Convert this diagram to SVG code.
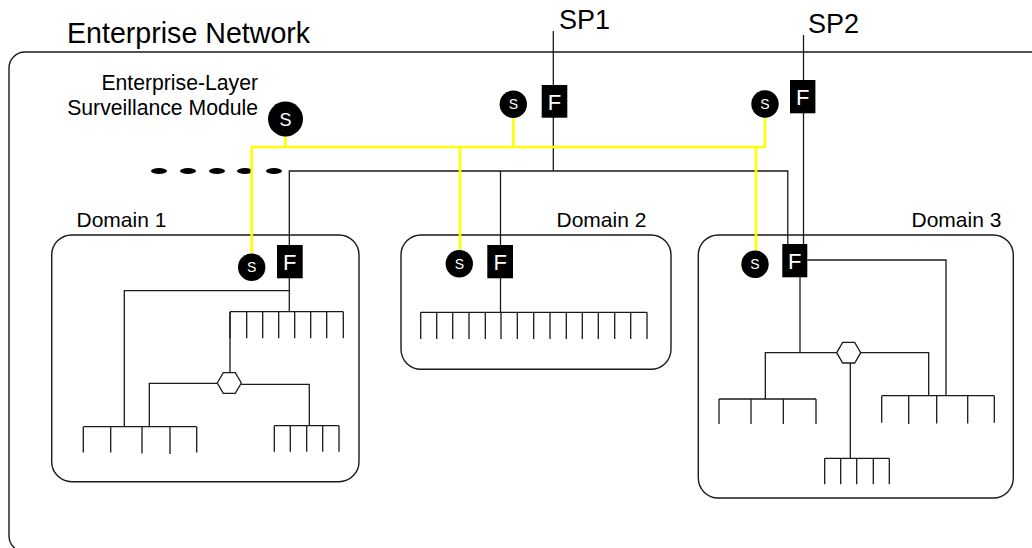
<svg xmlns="http://www.w3.org/2000/svg" width="1032" height="548" viewBox="0 0 1032 548">
  <style>
    .frame { fill: none; stroke: #1a1a1a; stroke-width: 1.4; }
    .wire { fill: none; stroke: #1a1a1a; stroke-width: 1.3; }
    .mon { fill: none; stroke: #ffff00; stroke-width: 2.6; }
    .label { font-family: "Liberation Sans", Arial, sans-serif; fill: #000; }
    .node { fill: #000; }
    .glyph { font-family: "Liberation Sans", Arial, sans-serif; fill: #fff; text-anchor: middle; }
    .hub { fill: #fff; stroke: #1a1a1a; stroke-width: 1.3; }
    .bus { fill: none; stroke: #1a1a1a; stroke-width: 1.3; }
  </style>

  <!-- enterprise boundary -->
  <g id="enterprise">
    <rect class="frame" x="9" y="52" width="1100" height="500" rx="16" ry="16"/>
    <text class="label" x="67" y="43" font-size="28.6">Enterprise Network</text>
    <text class="label" x="258" y="90" font-size="21.2" text-anchor="end">Enterprise-Layer</text>
    <text class="label" x="258" y="115" font-size="21.2" text-anchor="end">Surveillance Module</text>
    <g id="continuation">
      <ellipse class="node" cx="159" cy="171" rx="8" ry="3"/>
      <ellipse class="node" cx="188" cy="171" rx="8" ry="3"/>
      <ellipse class="node" cx="217" cy="171" rx="8" ry="3"/>
      <ellipse class="node" cx="245" cy="171" rx="8" ry="3"/>
      <ellipse class="node" cx="274" cy="171" rx="8" ry="3"/>
    </g>
  </g>

  <!-- service provider labels -->
  <g id="sp1"><text class="label" x="559" y="29" font-size="27">SP1</text></g>
  <g id="sp2"><text class="label" x="808" y="33" font-size="27">SP2</text></g>

  <!-- domain containers -->
  <g id="domain1">
    <rect class="frame" x="51.7" y="235" width="307.3" height="246.7" rx="20" ry="20"/>
    <text class="label" x="76.5" y="226.5" font-size="21">Domain 1</text>
  </g>
  <g id="domain2">
    <rect class="frame" x="401" y="235" width="270" height="134.3" rx="20" ry="20"/>
    <text class="label" x="556.5" y="226.5" font-size="21">Domain 2</text>
  </g>
  <g id="domain3">
    <rect class="frame" x="698.3" y="235" width="315" height="263" rx="20" ry="20"/>
    <text class="label" x="911.5" y="226.5" font-size="21">Domain 3</text>
  </g>

  <!-- connectors -->
  <g id="connectors">
    <!-- uplinks to the service providers -->
    <path class="wire" d="M553.3 31 V171"/>
    <path class="wire" d="M803.5 35 V244"/>
    <!-- enterprise backbone -->
    <path class="wire" d="M289.3 245 V171 H787.8 V244"/>
    <path class="wire" d="M500.5 171 V245"/>
    <!-- domain 1 -->
    <path class="wire" d="M289.3 278 V311.7"/>
    <path class="wire" d="M289.3 290.7 H124.3 V426.7"/>
    <path class="wire" d="M230 311.7 V372.7"/>
    <path class="wire" d="M217.3 383.3 H149.3 V426.7"/>
    <path class="wire" d="M241.3 384.3 H309.3 V425.7"/>
    <!-- domain 2 -->
    <path class="wire" d="M500.5 278 V312.3"/>
    <!-- domain 3 -->
    <path class="wire" d="M807.3 260 H946 V395.7"/>
    <path class="wire" d="M800 277.3 V352.7"/>
    <path class="wire" d="M765.3 399 V352.7 H836.7"/>
    <path class="wire" d="M860.7 352.7 H928.7 V395.7"/>
    <path class="wire" d="M850.3 363 V458.3"/>
    <!-- surveillance links -->
    <path class="mon" d="M285.5 136 V147"/>
    <path class="mon" d="M251.7 253.5 V147 H765 V118"/>
    <path class="mon" d="M460 250 V147"/>
    <path class="mon" d="M513.3 118 V147"/>
    <path class="mon" d="M756 251 V147"/>
  </g>

  <!-- surveillance modules -->
  <g id="s-enterprise">
    <circle class="node" cx="285.5" cy="119" r="17.5"/>
    <text class="glyph" x="285.5" y="125.5" font-size="18">S</text>
  </g>
  <g id="s-sp1">
    <circle class="node" cx="513.3" cy="104.3" r="13.7"/>
    <text class="glyph" x="513.3" y="109.3" font-size="14">S</text>
  </g>
  <g id="s-sp2">
    <circle class="node" cx="765" cy="104" r="13.7"/>
    <text class="glyph" x="765" y="109" font-size="14">S</text>
  </g>
  <g id="s-domain1">
    <circle class="node" cx="251.7" cy="267.3" r="13.7"/>
    <text class="glyph" x="251.7" y="272.3" font-size="14">S</text>
  </g>
  <g id="s-domain2">
    <circle class="node" cx="459.3" cy="263.7" r="13.7"/>
    <text class="glyph" x="459.3" y="268.7" font-size="14">S</text>
  </g>
  <g id="s-domain3">
    <circle class="node" cx="755" cy="264.3" r="13.7"/>
    <text class="glyph" x="755" y="269.3" font-size="14">S</text>
  </g>

  <!-- firewalls -->
  <g id="f-sp1">
    <rect class="node" x="541.7" y="85" width="25.6" height="32.7"/>
    <text class="glyph" x="554.5" y="109.5" font-size="22">F</text>
  </g>
  <g id="f-sp2">
    <rect class="node" x="790" y="80" width="25.4" height="33.3"/>
    <text class="glyph" x="802.7" y="104.5" font-size="22">F</text>
  </g>
  <g id="f-domain1">
    <rect class="node" x="277" y="245" width="25.7" height="33.3"/>
    <text class="glyph" x="289.8" y="269.5" font-size="22">F</text>
  </g>
  <g id="f-domain2">
    <rect class="node" x="487.3" y="245" width="25.7" height="33.3"/>
    <text class="glyph" x="500.2" y="269.5" font-size="22">F</text>
  </g>
  <g id="f-domain3">
    <rect class="node" x="782.3" y="244" width="25" height="33.3"/>
    <text class="glyph" x="794.8" y="268.5" font-size="22">F</text>
  </g>

  <!-- routers -->
  <g id="hub-domain1">
    <polygon class="hub" points="217.3,383 223.3,372.7 235.3,372.7 241.3,383 235.3,393.3 223.3,393.3"/>
  </g>
  <g id="hub-domain3">
    <polygon class="hub" points="836.7,352.7 842.7,342.4 854.7,342.4 860.7,352.7 854.7,363 842.7,363"/>
  </g>

  <!-- host segments -->
  <g id="seg-d1-top">
    <path class="bus" d="M230 311.7 H343.3 M230 311.7 V338.3 M246.7 311.7 V338.3 M262.7 311.7 V338.3 M278.7 311.7 V338.3 M294.7 311.7 V338.3 M310.7 311.7 V338.3 M326.7 311.7 V338.3 M343.3 311.7 V338.3"/>
  </g>
  <g id="seg-d1-left">
    <path class="bus" d="M83.3 426.7 H196.7 M83.3 426.7 V452.5 M110.7 426.7 V452.5 M142 426.7 V453.5 M170 426.7 V454 M196.7 426.7 V452.5"/>
  </g>
  <g id="seg-d1-right">
    <path class="bus" d="M274.3 425.7 H339 M274.3 425.7 V451.7 M290.3 425.7 V451.7 M306.7 425.7 V451.7 M322.7 425.7 V451.7 M339 425.7 V451.7"/>
  </g>
  <g id="seg-d2">
    <path class="bus" d="M420.7 312.3 H647 M420.7 312.3 V339 M436.7 312.3 V339 M452.7 312.3 V339 M469 312.3 V339 M485.3 312.3 V339 M501 312.3 V339 M517.3 312.3 V339 M533.7 312.3 V339 M550 312.3 V339 M566.3 312.3 V339 M582.3 312.3 V339 M598.3 312.3 V339 M614.7 312.3 V339 M630.7 312.3 V339 M647 312.3 V339"/>
  </g>
  <g id="seg-d3-left">
    <path class="bus" d="M719 399 H816 M719 399 V424 M751 399 V424 M783.3 399 V424 M816 399 V424"/>
  </g>
  <g id="seg-d3-right">
    <path class="bus" d="M881.7 395.7 H994.3 M881.7 395.7 V422.7 M908.7 395.7 V424 M936.7 395.7 V423.5 M967.7 395.7 V423.5 M994.3 395.7 V422.7"/>
  </g>
  <g id="seg-d3-bottom">
    <path class="bus" d="M824.7 458.3 H889.3 M824.7 458.3 V484.3 M840.7 458.3 V484.3 M856.7 458.3 V484.3 M873.3 458.3 V484.3 M889.3 458.3 V484.3"/>
  </g>
</svg>
